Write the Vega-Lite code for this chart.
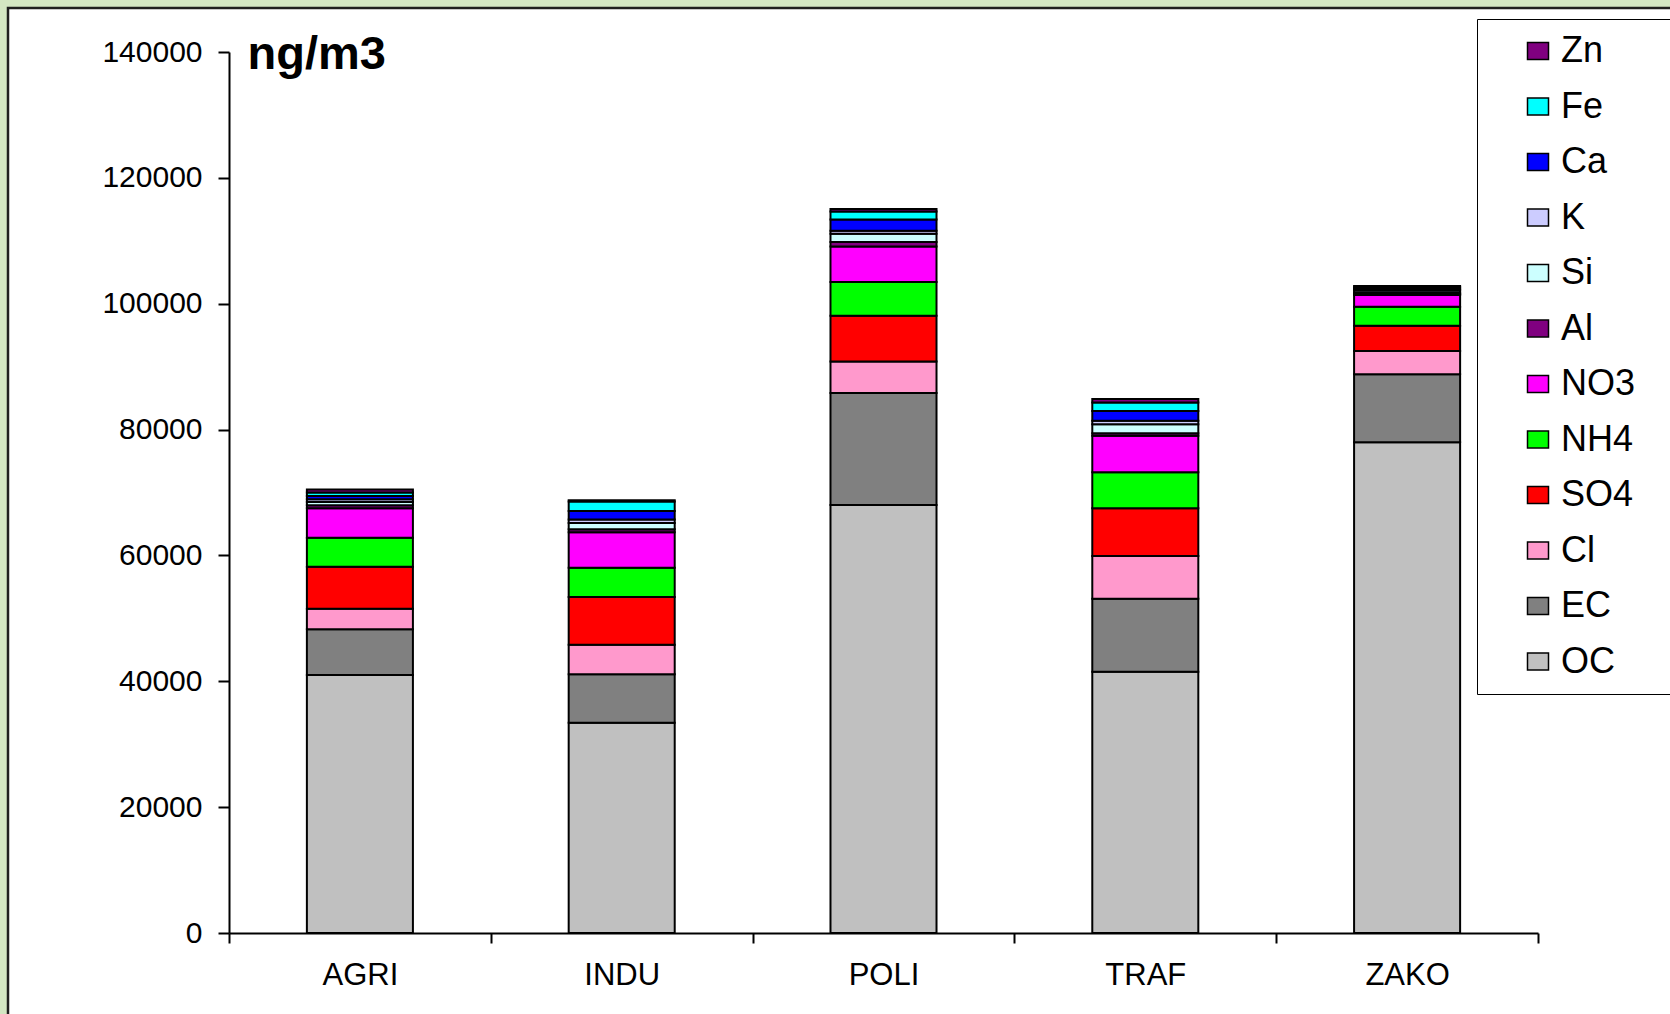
{
  "$schema": "https://vega.github.io/schema/vega-lite/v6.json",
  "width": 1680,
  "height": 1020,
  "autosize": {"type": "none"},
  "padding": {"left": 8, "top": 8, "right": 0, "bottom": 0},
  "background": "#d3e6c2",
  "config": {
    "view": {"fill": "white", "stroke": "#1e1e1e", "strokeWidth": 2.5},
    "font": "Liberation Sans",
    "axis": {"domainColor": "black", "tickColor": "black", "labelColor": "black", "grid": false}
  },
  "data": {
    "values": [
      {"site": "AGRI", "comp": "OC", "ord": 1, "value": 41000},
      {"site": "AGRI", "comp": "EC", "ord": 2, "value": 7260},
      {"site": "AGRI", "comp": "Cl", "ord": 3, "value": 3280},
      {"site": "AGRI", "comp": "SO4", "ord": 4, "value": 6670},
      {"site": "AGRI", "comp": "NH4", "ord": 5, "value": 4610},
      {"site": "AGRI", "comp": "NO3", "ord": 6, "value": 4670},
      {"site": "AGRI", "comp": "Al", "ord": 7, "value": 500},
      {"site": "AGRI", "comp": "Si", "ord": 8, "value": 500},
      {"site": "AGRI", "comp": "K", "ord": 9, "value": 450},
      {"site": "AGRI", "comp": "Ca", "ord": 10, "value": 500},
      {"site": "AGRI", "comp": "Fe", "ord": 11, "value": 550},
      {"site": "AGRI", "comp": "Zn", "ord": 12, "value": 500},

      {"site": "INDU", "comp": "OC", "ord": 1, "value": 33400},
      {"site": "INDU", "comp": "EC", "ord": 2, "value": 7700},
      {"site": "INDU", "comp": "Cl", "ord": 3, "value": 4700},
      {"site": "INDU", "comp": "SO4", "ord": 4, "value": 7600},
      {"site": "INDU", "comp": "NH4", "ord": 5, "value": 4650},
      {"site": "INDU", "comp": "NO3", "ord": 6, "value": 5650},
      {"site": "INDU", "comp": "Al", "ord": 7, "value": 450},
      {"site": "INDU", "comp": "Si", "ord": 8, "value": 1000},
      {"site": "INDU", "comp": "K", "ord": 9, "value": 550},
      {"site": "INDU", "comp": "Ca", "ord": 10, "value": 1350},
      {"site": "INDU", "comp": "Fe", "ord": 11, "value": 1500},
      {"site": "INDU", "comp": "Zn", "ord": 12, "value": 200},

      {"site": "POLI", "comp": "OC", "ord": 1, "value": 68000},
      {"site": "POLI", "comp": "EC", "ord": 2, "value": 17800},
      {"site": "POLI", "comp": "Cl", "ord": 3, "value": 5000},
      {"site": "POLI", "comp": "SO4", "ord": 4, "value": 7300},
      {"site": "POLI", "comp": "NH4", "ord": 5, "value": 5350},
      {"site": "POLI", "comp": "NO3", "ord": 6, "value": 5650},
      {"site": "POLI", "comp": "Al", "ord": 7, "value": 700},
      {"site": "POLI", "comp": "Si", "ord": 8, "value": 1300},
      {"site": "POLI", "comp": "K", "ord": 9, "value": 500},
      {"site": "POLI", "comp": "Ca", "ord": 10, "value": 1800},
      {"site": "POLI", "comp": "Fe", "ord": 11, "value": 1250},
      {"site": "POLI", "comp": "Zn", "ord": 12, "value": 400},

      {"site": "TRAF", "comp": "OC", "ord": 1, "value": 41500},
      {"site": "TRAF", "comp": "EC", "ord": 2, "value": 11600},
      {"site": "TRAF", "comp": "Cl", "ord": 3, "value": 6810},
      {"site": "TRAF", "comp": "SO4", "ord": 4, "value": 7580},
      {"site": "TRAF", "comp": "NH4", "ord": 5, "value": 5720},
      {"site": "TRAF", "comp": "NO3", "ord": 6, "value": 5820},
      {"site": "TRAF", "comp": "Al", "ord": 7, "value": 370},
      {"site": "TRAF", "comp": "Si", "ord": 8, "value": 1430},
      {"site": "TRAF", "comp": "K", "ord": 9, "value": 570},
      {"site": "TRAF", "comp": "Ca", "ord": 10, "value": 1540},
      {"site": "TRAF", "comp": "Fe", "ord": 11, "value": 1380},
      {"site": "TRAF", "comp": "Zn", "ord": 12, "value": 530},

      {"site": "ZAKO", "comp": "OC", "ord": 1, "value": 78000},
      {"site": "ZAKO", "comp": "EC", "ord": 2, "value": 10800},
      {"site": "ZAKO", "comp": "Cl", "ord": 3, "value": 3700},
      {"site": "ZAKO", "comp": "SO4", "ord": 4, "value": 4000},
      {"site": "ZAKO", "comp": "NH4", "ord": 5, "value": 3000},
      {"site": "ZAKO", "comp": "NO3", "ord": 6, "value": 1900},
      {"site": "ZAKO", "comp": "Al", "ord": 7, "value": 150},
      {"site": "ZAKO", "comp": "Si", "ord": 8, "value": 200},
      {"site": "ZAKO", "comp": "K", "ord": 9, "value": 350},
      {"site": "ZAKO", "comp": "Ca", "ord": 10, "value": 250},
      {"site": "ZAKO", "comp": "Fe", "ord": 11, "value": 250},
      {"site": "ZAKO", "comp": "Zn", "ord": 12, "value": 200}
    ]
  },
  "mark": {"type": "bar", "stroke": "black", "strokeWidth": 2, "width": {"band": 0.405}},
  "encoding": {
    "x": {
      "field": "site",
      "type": "nominal",
      "sort": ["AGRI", "INDU", "POLI", "TRAF", "ZAKO"],
      "scale": {"range": [221, 1530], "paddingInner": 0, "paddingOuter": 0},
      "axis": {
        "orient": "bottom",
        "offset": -95,
        "title": null,
        "tickBand": "extent",
        "labelAngle": 0,
        "domainWidth": 2,
        "tickWidth": 2,
        "tickSize": 10,
        "labelFontSize": 31,
        "labelPadding": 17
      }
    },
    "y": {
      "field": "value",
      "type": "quantitative",
      "stack": "zero",
      "scale": {"domain": [0, 140000], "range": [925, 44], "nice": false},
      "axis": {
        "offset": -221,
        "values": [0, 20000, 40000, 60000, 80000, 100000, 120000, 140000],
        "format": "d",
        "tickSize": 11,
        "tickWidth": 2,
        "domainWidth": 2,
        "labelFontSize": 30,
        "labelPadding": 16,
        "title": "ng/m3",
        "titleAngle": 0,
        "titleX": 18,
        "titleY": 60,
        "titleAlign": "left",
        "titleBaseline": "alphabetic",
        "titleFontSize": 47,
        "titleFontWeight": "bold",
        "titleColor": "black"
      }
    },
    "color": {
      "field": "comp",
      "type": "nominal",
      "scale": {
        "domain": ["Zn", "Fe", "Ca", "K", "Si", "Al", "NO3", "NH4", "SO4", "Cl", "EC", "OC"],
        "range": ["#800080", "#00ffff", "#0000ff", "#ccccff", "#ccffff", "#800080", "#ff00ff", "#00ff00", "#ff0000", "#ff99cc", "#808080", "#c0c0c0"]
      },
      "legend": {
        "orient": "none",
        "legendX": 1469,
        "legendY": 11,
        "title": null,
        "fillColor": "white",
        "strokeColor": "black",
        "padding": 14,
        "labelFontSize": 36,
        "labelColor": "black",
        "labelOffset": 5,
        "labelLimit": 800,
        "labelExpr": "datum.label + '\u00a0\u00a0\u200b'",
        "symbolType": "M-1,-0.8H1V0.8H-1Z",
        "symbolSize": 441,
        "symbolStrokeColor": "black",
        "symbolStrokeWidth": 1.5,
        "symbolOffset": 29,
        "rowPadding": 19.5
      }
    },
    "order": {"field": "ord", "type": "quantitative"}
  }
}
